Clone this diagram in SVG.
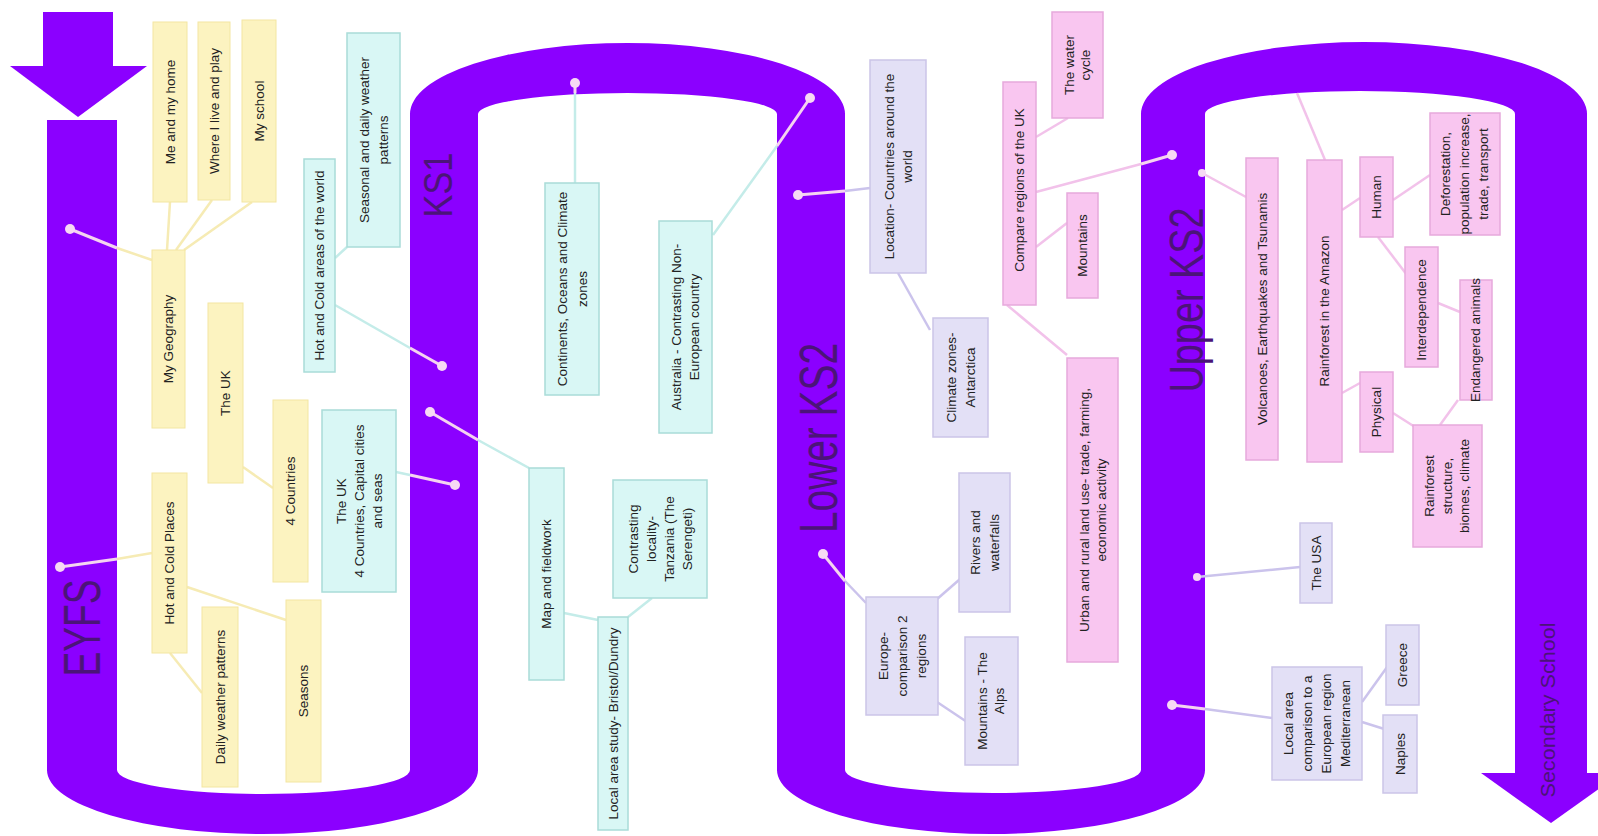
<svg xmlns="http://www.w3.org/2000/svg" width="1598" height="836" viewBox="0 0 1598 836">
<style>
.band{fill:#8b00ff}
.lbl{font-family:"Liberation Sans",Arial,sans-serif;fill:#4b1478;text-anchor:middle}
.t{font-family:"Liberation Sans",Arial,sans-serif;font-size:13.5px;fill:#222;text-anchor:middle}
.y{fill:#fcf3c0;stroke:#f3e6a2;stroke-width:1}
.c{fill:#d9f7f5;stroke:#a9dcd8;stroke-width:1.5}
.l{fill:#e3e0f6;stroke:#cbc5e8;stroke-width:1.5}
.p{fill:#f9c6f0;stroke:#e6a9dc;stroke-width:1.5}
.cy{stroke:#f6ebb4;stroke-width:2.5;fill:none}
.cc{stroke:#c4ece9;stroke-width:2.5;fill:none}
.cl{stroke:#cbc3ec;stroke-width:2.5;fill:none}
.cp{stroke:#f2c2ea;stroke-width:2.5;fill:none}
.cb{stroke:#f5d3f0;stroke-width:3;fill:none}
.dot{fill:#f7d9f4}
</style>
<rect width="1598" height="836" fill="#ffffff"/>
<g id="band">
<rect class="band" x="43" y="12" width="70" height="55"/>
<polygon class="band" points="10,66 147,66 78,117"/>
<rect class="band" x="47" y="120" width="70" height="651"/>
<rect class="band" x="410" y="113" width="68" height="658"/>
<path class="band" d="M47,770 A215.5,64 0 0 0 478,770 L410,770 A146.5,24 0 0 1 117,770 Z"/>
<path class="band" d="M410,114 A217.5,71 0 0 1 845,114 L777,114 A149.5,21 0 0 0 478,114 Z"/>
<rect class="band" x="777" y="113" width="68" height="658"/>
<path class="band" d="M777,770 A214,64 0 0 0 1205,770 L1141,770 A148,23 0 0 1 845,770 Z"/>
<rect class="band" x="1141" y="113" width="64" height="658"/>
<path class="band" d="M1141,114 A223,72 0 0 1 1587,114 L1515,114 A155,23 0 0 0 1205,114 Z"/>
<rect class="band" x="1515" y="113" width="72" height="661"/>
<polygon class="band" points="1481,773 1621,773 1551,823"/>
<text class="lbl" font-size="52" textLength="97" lengthAdjust="spacingAndGlyphs" transform="translate(100,628) rotate(-90)">EYFS</text>
<text class="lbl" font-size="40" textLength="65" lengthAdjust="spacingAndGlyphs" transform="translate(452,185) rotate(-90)">KS1</text>
<text class="lbl" font-size="54" textLength="190" lengthAdjust="spacingAndGlyphs" transform="translate(837,438) rotate(-90)">Lower KS2</text>
<text class="lbl" font-size="49" textLength="185" lengthAdjust="spacingAndGlyphs" transform="translate(1203,300) rotate(-90)">Upper KS2</text>
<text class="lbl" font-size="20" textLength="175" lengthAdjust="spacingAndGlyphs" transform="translate(1555,710) rotate(-90)">Secondary School</text>
</g>
<g id="connectors">
<polyline class="cb" points="70,229 117,248"/><polyline class="cy" points="117,248 152,260"/>
<line class="cy" x1="170" y1="202" x2="167" y2="250"/>
<line class="cy" x1="212" y1="200" x2="176" y2="250"/>
<line class="cy" x1="252" y1="202" x2="184" y2="250"/>
<polyline class="cb" points="60,567 117,559"/><polyline class="cy" points="117,559 152,553"/>
<line class="cy" x1="187" y1="587" x2="286" y2="620"/>
<line class="cy" x1="170" y1="653" x2="202" y2="693"/>
<line class="cy" x1="243" y1="467" x2="273" y2="488"/>
<polyline class="cb" points="442,366 410,348"/><polyline class="cc" points="410,348 335,305"/>
<line class="cc" x1="347" y1="247" x2="335" y2="258"/>
<polyline class="cb" points="455,485 410,475"/><polyline class="cc" points="410,475 396,472"/>
<polyline class="cb" points="430,412 478,440"/><polyline class="cc" points="478,440 529,468"/>
<line class="cc" x1="564" y1="613" x2="598" y2="620"/>
<line class="cc" x1="628" y1="617" x2="652" y2="598"/>
<polyline class="cb" points="575,83 575,93"/><polyline class="cc" points="575,93 575,183"/>
<polyline class="cb" points="810,98 777,146"/><polyline class="cc" points="777,146 713,235"/>
<polyline class="cb" points="798,195 845,191"/><polyline class="cl" points="845,191 870,188"/>
<line class="cl" x1="898" y1="273" x2="930" y2="330"/>
<polyline class="cb" points="823,554 845,581"/><polyline class="cl" points="845,581 866,603"/>
<line class="cl" x1="936" y1="600" x2="967" y2="573"/>
<line class="cl" x1="937" y1="702" x2="967" y2="722"/>
<polyline class="cb" points="1172,155 1141,164"/><polyline class="cp" points="1141,164 1036,192"/>
<line class="cp" x1="1036" y1="137" x2="1068" y2="118"/>
<line class="cp" x1="1036" y1="247" x2="1067" y2="223"/>
<line class="cp" x1="1007" y1="305" x2="1067" y2="355"/>
<line class="cp" x1="1202" y1="173" x2="1246" y2="197"/>
<line class="cp" x1="1297" y1="93" x2="1325" y2="160"/>
<line class="cp" x1="1342" y1="210" x2="1360" y2="198"/>
<line class="cp" x1="1393" y1="200" x2="1430" y2="175"/>
<line class="cp" x1="1378" y1="237" x2="1407" y2="275"/>
<line class="cp" x1="1438" y1="303" x2="1460" y2="312"/>
<line class="cp" x1="1458" y1="400" x2="1440" y2="425"/>
<line class="cp" x1="1342" y1="393" x2="1360" y2="383"/>
<line class="cp" x1="1393" y1="413" x2="1415" y2="427"/>
<line class="cl" x1="1197" y1="577" x2="1300" y2="567"/>
<polyline class="cb" points="1172,705 1205,709"/><polyline class="cl" points="1205,709 1272,718"/>
<line class="cl" x1="1362" y1="702" x2="1390" y2="663"/>
<line class="cl" x1="1362" y1="722" x2="1397" y2="733"/>
<circle class="dot" cx="70" cy="229" r="5"/>
<circle class="dot" cx="60" cy="567" r="5"/>
<circle class="dot" cx="442" cy="366" r="5"/>
<circle class="dot" cx="455" cy="485" r="5"/>
<circle class="dot" cx="430" cy="412" r="5"/>
<circle class="dot" cx="575" cy="83" r="5"/>
<circle class="dot" cx="810" cy="98" r="5"/>
<circle class="dot" cx="798" cy="195" r="5"/>
<circle class="dot" cx="823" cy="554" r="5"/>
<circle class="dot" cx="1172" cy="155" r="5"/>
<circle class="dot" cx="1202" cy="173" r="4"/>
<circle class="dot" cx="1197" cy="577" r="4"/>
<circle class="dot" cx="1172" cy="705" r="5"/>
</g>
<g id="n-me-and-my-home"><rect class="y" x="153" y="22" width="34" height="180"/><text class="t" transform="translate(170,112) rotate(-90)"><tspan x="0" y="4.8">Me and my home</tspan></text></g>
<g id="n-where-i-live"><rect class="y" x="198" y="22" width="32" height="178"/><text class="t" transform="translate(214,111) rotate(-90)"><tspan x="0" y="4.8">Where I live and play</tspan></text></g>
<g id="n-my-school"><rect class="y" x="242" y="20" width="34" height="182"/><text class="t" transform="translate(259,111) rotate(-90)"><tspan x="0" y="4.8">My school</tspan></text></g>
<g id="n-my-geography"><rect class="y" x="152" y="250" width="33" height="178"/><text class="t" transform="translate(168.5,339) rotate(-90)"><tspan x="0" y="4.8">My Geography</tspan></text></g>
<g id="n-the-uk-y"><rect class="y" x="208" y="303" width="35" height="180"/><text class="t" transform="translate(225.5,393) rotate(-90)"><tspan x="0" y="4.8">The UK</tspan></text></g>
<g id="n-4-countries"><rect class="y" x="273" y="400" width="35" height="182"/><text class="t" transform="translate(290.5,491) rotate(-90)"><tspan x="0" y="4.8">4 Countries</tspan></text></g>
<g id="n-hot-cold-places"><rect class="y" x="152" y="473" width="35" height="180"/><text class="t" transform="translate(169.5,563) rotate(-90)"><tspan x="0" y="4.8">Hot and Cold Places</tspan></text></g>
<g id="n-daily-weather"><rect class="y" x="202" y="607" width="36" height="180"/><text class="t" transform="translate(220,697) rotate(-90)"><tspan x="0" y="4.8">Daily weather patterns</tspan></text></g>
<g id="n-seasons"><rect class="y" x="286" y="600" width="35" height="182"/><text class="t" transform="translate(303.5,691) rotate(-90)"><tspan x="0" y="4.8">Seasons</tspan></text></g>
<g id="n-hot-cold-areas"><rect class="c" x="304" y="159" width="31" height="213"/><text class="t" transform="translate(319.5,265.5) rotate(-90)"><tspan x="0" y="4.8">Hot and Cold areas of the world</tspan></text></g>
<g id="n-seasonal-weather"><rect class="c" x="347" y="33" width="53" height="214"/><text class="t" transform="translate(373.5,140) rotate(-90)"><tspan x="0" y="-4.7">Seasonal and daily weather</tspan><tspan x="0" y="14.3">patterns</tspan></text></g>
<g id="n-uk-capitals"><rect class="c" x="322" y="410" width="74" height="182"/><text class="t" transform="translate(359,501) rotate(-90)"><tspan x="0" y="-13.2">The UK</tspan><tspan x="0" y="4.8">4 Countries, Capital cities</tspan><tspan x="0" y="22.8">and seas</tspan></text></g>
<g id="n-continents"><rect class="c" x="545" y="183" width="54" height="212"/><text class="t" transform="translate(572,289) rotate(-90)"><tspan x="0" y="-5.2">Continents, Oceans and Climate</tspan><tspan x="0" y="14.8">zones</tspan></text></g>
<g id="n-australia"><rect class="c" x="659" y="221" width="53" height="212"/><text class="t" transform="translate(685.5,327) rotate(-90)"><tspan x="0" y="-4.2">Australia - Contrasting Non-</tspan><tspan x="0" y="13.8">European country</tspan></text></g>
<g id="n-map-fieldwork"><rect class="c" x="529" y="468" width="35" height="212"/><text class="t" transform="translate(546.5,574) rotate(-90)"><tspan x="0" y="4.8">Map and fieldwork</tspan></text></g>
<g id="n-tanzania"><rect class="c" x="613" y="480" width="94" height="118"/><text class="t" transform="translate(660,539) rotate(-90)"><tspan x="0" y="-22.2">Contrasting</tspan><tspan x="0" y="-4.2">locality-</tspan><tspan x="0" y="13.8">Tanzania (The</tspan><tspan x="0" y="31.8">Serengeti)</tspan></text></g>
<g id="n-local-study"><rect class="c" x="598" y="617" width="30" height="213"/><text class="t" transform="translate(613,723.5) rotate(-90)"><tspan x="0" y="4.8">Local area study- Bristol/Dundry</tspan></text></g>
<g id="n-location"><rect class="l" x="870" y="60" width="56" height="213"/><text class="t" transform="translate(898,166.5) rotate(-90)"><tspan x="0" y="-4.2">Location- Countries around the</tspan><tspan x="0" y="13.8">world</tspan></text></g>
<g id="n-climate-zones"><rect class="l" x="933" y="318" width="55" height="119"/><text class="t" transform="translate(960.5,377.5) rotate(-90)"><tspan x="0" y="-4.7">Climate zones-</tspan><tspan x="0" y="14.3">Antarctica</tspan></text></g>
<g id="n-rivers"><rect class="l" x="959" y="473" width="51" height="139"/><text class="t" transform="translate(984.5,542.5) rotate(-90)"><tspan x="0" y="-4.7">Rivers and</tspan><tspan x="0" y="14.3">waterfalls</tspan></text></g>
<g id="n-europe"><rect class="l" x="866" y="597" width="72" height="118"/><text class="t" transform="translate(902,656) rotate(-90)"><tspan x="0" y="-14.2">Europe-</tspan><tspan x="0" y="4.8">comparison 2</tspan><tspan x="0" y="23.8">regions</tspan></text></g>
<g id="n-alps"><rect class="l" x="965" y="637" width="53" height="128"/><text class="t" font-size="12" transform="translate(991.5,701) rotate(-90)"><tspan x="0" y="-4.2">Mountains - The</tspan><tspan x="0" y="12.8">Alps</tspan></text></g>
<g id="n-water-cycle"><rect class="p" x="1052" y="12" width="51" height="106"/><text class="t" font-size="11.5" transform="translate(1077.5,65) rotate(-90)"><tspan x="0" y="-3.9">The water</tspan><tspan x="0" y="12.1">cycle</tspan></text></g>
<g id="n-compare-uk"><rect class="p" x="1003" y="82" width="33" height="223"/><text class="t" transform="translate(1019.5,190) rotate(-90)"><tspan x="0" y="4.8">Compare regions of the UK</tspan></text></g>
<g id="n-mountains"><rect class="p" x="1067" y="193" width="31" height="105"/><text class="t" font-size="12" transform="translate(1082.5,245.5) rotate(-90)"><tspan x="0" y="4.3">Mountains</tspan></text></g>
<g id="n-urban-rural"><rect class="p" x="1067" y="358" width="51" height="304"/><text class="t" font-size="12.5" transform="translate(1092.5,510) rotate(-90)"><tspan x="0" y="-4">Urban and rural land use- trade, farming,</tspan><tspan x="0" y="13">economic activity</tspan></text></g>
<g id="n-volcanoes"><rect class="p" x="1246" y="158" width="32" height="302"/><text class="t" transform="translate(1262,309) rotate(-90)"><tspan x="0" y="4.8">Volcanoes, Earthquakes and Tsunamis</tspan></text></g>
<g id="n-rainforest-amazon"><rect class="p" x="1307" y="160" width="35" height="302"/><text class="t" transform="translate(1324.5,311) rotate(-90)"><tspan x="0" y="4.8">Rainforest in the Amazon</tspan></text></g>
<g id="n-human"><rect class="p" x="1360" y="157" width="33" height="80"/><text class="t" transform="translate(1376.5,197) rotate(-90)"><tspan x="0" y="4.8">Human</tspan></text></g>
<g id="n-deforestation"><rect class="p" x="1430" y="113" width="70" height="122"/><text class="t" font-size="10.5" transform="translate(1465,174) rotate(-90)"><tspan x="0" y="-15.2">Deforestation,</tspan><tspan x="0" y="3.8">population increase,</tspan><tspan x="0" y="22.8">trade, transport</tspan></text></g>
<g id="n-interdependence"><rect class="p" x="1405" y="247" width="33" height="120"/><text class="t" font-size="11" transform="translate(1421.5,310) rotate(-90)"><tspan x="0" y="4">Interdependence</tspan></text></g>
<g id="n-endangered"><rect class="p" x="1460" y="280" width="32" height="120"/><text class="t" font-size="11" transform="translate(1476,340) rotate(-90)"><tspan x="0" y="4">Endangered animals</tspan></text></g>
<g id="n-physical"><rect class="p" x="1360" y="372" width="33" height="80"/><text class="t" transform="translate(1376.5,412) rotate(-90)"><tspan x="0" y="4.8">Physical</tspan></text></g>
<g id="n-rainforest-structure"><rect class="p" x="1413" y="425" width="69" height="122"/><text class="t" font-size="12" transform="translate(1447.5,486) rotate(-90)"><tspan x="0" y="-13.2">Rainforest</tspan><tspan x="0" y="4.3">structure,</tspan><tspan x="0" y="21.8">biomes, climate</tspan></text></g>
<g id="n-usa"><rect class="l" x="1300" y="523" width="32" height="80"/><text class="t" transform="translate(1316,563) rotate(-90)"><tspan x="0" y="4.8">The USA</tspan></text></g>
<g id="n-local-comparison"><rect class="l" x="1272" y="667" width="90" height="113"/><text class="t" font-size="11.5" transform="translate(1317,723.5) rotate(-90)"><tspan x="0" y="-24.4">Local area</tspan><tspan x="0" y="-5.4">comparison to a</tspan><tspan x="0" y="13.6">European region</tspan><tspan x="0" y="32.6">Mediterranean</tspan></text></g>
<g id="n-greece"><rect class="l" x="1386" y="625" width="33" height="80"/><text class="t" font-size="13" transform="translate(1402.5,665) rotate(-90)"><tspan x="0" y="4.6">Greece</tspan></text></g>
<g id="n-naples"><rect class="l" x="1383" y="715" width="34" height="78"/><text class="t" font-size="13" transform="translate(1400,754) rotate(-90)"><tspan x="0" y="4.6">Naples</tspan></text></g>
</svg>
